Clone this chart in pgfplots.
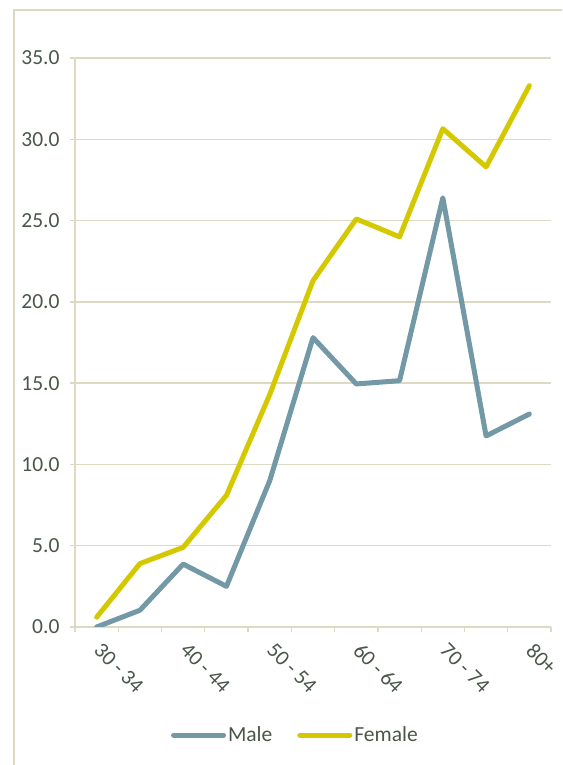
\documentclass[border=0pt]{standalone}
\usepackage{fontspec}
\setmainfont{Carlito}
\usepackage{pgfplots}
\pgfplotsset{compat=1.18}
\definecolor{gridc}{RGB}{221,217,195}
\definecolor{txt}{RGB}{73,87,74}
\definecolor{male}{RGB}{114,153,165}
\definecolor{female}{RGB}{212,200,0}
\newcommand\cf{\fontsize{21.5}{26}\selectfont}
\begin{document}
\begin{tikzpicture}
\useasboundingbox (0,0) rectangle (562pt,765pt);
\clip (0,0) rectangle (562pt,765pt);
\draw[gridc, line width=1.5pt] (14pt,-20pt) -- (14pt,755pt) -- (600pt,755pt);
\begin{axis}[
 at={(75pt,138pt)}, anchor=south west,
 scale only axis, width=476pt, height=569pt,
 xmin=-0.5, xmax=10.5, ymin=0, ymax=35,
 axis lines*=left,
 axis line style={gridc, line width=1.3pt},
 ytick={0,5,...,35},
 ymajorgrids, grid style={gridc, line width=1.3pt},
 major tick style={gridc, line width=1.3pt},
 major tick length=5pt,
 tick align=outside,
 xtick={-0.5,0.5,...,10.5},
 xticklabels={},
 extra x ticks={0,2,4,6,8,10},
 extra x tick labels={30 - 34,40 - 44,50 - 54,60 - 64,70 - 74,80+},
 extra x tick style={major tick length=0pt, grid=none,
   tick label style={xshift=6pt, yshift=-10pt, rotate=-45, anchor=north west, font=\cf, text=txt}},
 yticklabel style={font=\cf, text=txt, xshift=-7pt},
 /pgf/number format/.cd, fixed, fixed zerofill, precision=1, assume math mode=true,
 /pgfplots/.cd,
 legend style={at={(axis description cs:0.463,-0.19)}, anchor=center, draw=none, fill=none,
   font=\cf, text=txt, legend columns=2,
   /tikz/every even column/.append style={column sep=23pt}},
 legend image code/.code={\draw[#1, line cap=round] (0pt,0pt) -- (50pt,0pt);},
]
\addplot[male, line width=5pt, line join=round, line cap=round] coordinates {
(0,0.0) (1,1.03) (2,3.87) (3,2.5) (4,9.0) (5,17.8) (6,14.95) (7,15.15) (8,26.4) (9,11.75) (10,13.1)};
\addlegendentry{Male}
\addplot[female, line width=5pt, line join=round, line cap=round] coordinates {
(0,0.6) (1,3.9) (2,4.9) (3,8.1) (4,14.3) (5,21.3) (6,25.1) (7,24.0) (8,30.65) (9,28.3) (10,33.3)};
\addlegendentry{Female}
\end{axis}
\end{tikzpicture}
\end{document}
